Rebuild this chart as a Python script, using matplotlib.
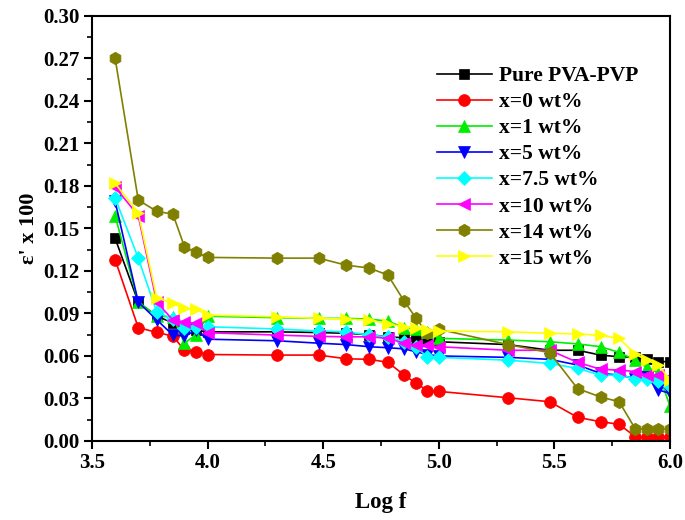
import matplotlib
matplotlib.use("Agg")
import matplotlib.pyplot as plt
from matplotlib.ticker import MultipleLocator, FormatStrFormatter

log_f = [3.60, 3.70, 3.78, 3.85, 3.90, 3.95, 4.00, 4.30, 4.48, 4.60, 4.70, 4.78, 4.85,
         4.90, 4.95, 5.00, 5.30, 5.48, 5.60, 5.70, 5.78, 5.85, 5.90, 5.95, 6.00]

pure = [0.143, 0.098, 0.088, 0.0834, 0.079, 0.078, 0.077, 0.077, 0.0765, 0.076, 0.075, 0.0735, 0.0728,
        0.0724, 0.0707, 0.070, 0.068, 0.064, 0.064, 0.0606, 0.0594, 0.059, 0.0576, 0.056, 0.056]
x0 = [0.128, 0.080, 0.0766, 0.074, 0.064, 0.063, 0.061, 0.0606, 0.0606, 0.058, 0.0576, 0.0555, 0.0465,
      0.041, 0.0355, 0.035, 0.0305, 0.0277, 0.0167, 0.0136, 0.0118, 0.003, 0.003, 0.003, 0.003]
x1 = [0.159, 0.098, 0.088, 0.0875, 0.069, 0.075, 0.088, 0.087, 0.0865, 0.0865, 0.086, 0.0845, 0.080,
      0.079, 0.077, 0.0724, 0.0712, 0.070, 0.0685, 0.0665, 0.0625, 0.057, 0.052, 0.048, 0.0245]
x5 = [0.169, 0.098, 0.0855, 0.0747, 0.074, 0.078, 0.0718, 0.0707, 0.069, 0.068, 0.0665, 0.0658, 0.065,
      0.063, 0.061, 0.060, 0.059, 0.0576, 0.0536, 0.0477, 0.0465, 0.044, 0.045, 0.036, 0.0336]
x7_5 = [0.1715, 0.129, 0.091, 0.086, 0.0795, 0.0806, 0.0806, 0.079, 0.0776, 0.077, 0.0747, 0.0735, 0.070,
        0.0665, 0.0594, 0.059, 0.057, 0.0547, 0.0512, 0.0465, 0.0465, 0.044, 0.044, 0.042, 0.039]
x10 = [0.179, 0.159, 0.098, 0.0853, 0.084, 0.083, 0.0764, 0.0747, 0.0738, 0.0735, 0.0735, 0.0724, 0.069,
       0.0677, 0.0677, 0.0665, 0.064, 0.064, 0.0555, 0.0506, 0.050, 0.049, 0.0465, 0.0465, 0.045]
x14 = [0.270, 0.170, 0.162, 0.160, 0.137, 0.133, 0.1295, 0.129, 0.129, 0.124, 0.122, 0.117, 0.0987,
       0.087, 0.076, 0.0788, 0.068, 0.0623, 0.037, 0.031, 0.0277, 0.0085, 0.0085, 0.0085, 0.0085]
x15 = [0.1817, 0.161, 0.101, 0.097, 0.0935, 0.093, 0.0888, 0.0876, 0.0865, 0.086, 0.0853, 0.0825, 0.0806,
       0.080, 0.078, 0.0776, 0.077, 0.076, 0.0755, 0.0745, 0.0724, 0.0613, 0.057, 0.0536, 0.043]

labels = ["Pure PVA-PVP", "x=0 wt%", "x=1 wt%", "x=5 wt%", "x=7.5 wt%", "x=10 wt%", "x=14 wt%", "x=15 wt%"]
series = [pure, x0, x1, x5, x7_5, x10, x14, x15]
colors = ["#000000", "#ff0000", "#00ee00", "#0000ff", "#00ffff", "#ff00ff", "#808000", "#ffff00"]
markers = ["s", "o", "^", "v", "D", "<", "h", ">"]
msizes = [7, 8.5, 9, 9, 7.5, 9, 9, 9]

plt.rcParams['font.family'] = ['Liberation Serif', 'DejaVu Serif']
plt.rcParams['font.weight'] = 'bold'

fig = plt.figure(figsize=(6.85, 5.2), dpi=100)
ax = fig.add_axes([92/685, 1 - 441/520, (670-92)/685, (441-15.7)/520])

for y, lab, c, m, ms in zip(series, labels, colors, markers, msizes):
    ax.plot(log_f, y, color=c, marker=m, markersize=ms, markeredgecolor=c,
            markeredgewidth=0.5, linewidth=1.2, label=lab)

ax.set_xlim(3.5, 6.0)
ax.set_ylim(0.0, 0.30)
ax.xaxis.set_major_locator(MultipleLocator(0.5))
ax.xaxis.set_minor_locator(MultipleLocator(0.25))
ax.yaxis.set_major_locator(MultipleLocator(0.03))
ax.yaxis.set_minor_locator(MultipleLocator(0.015))
ax.xaxis.set_major_formatter(FormatStrFormatter('%.1f'))
ax.yaxis.set_major_formatter(FormatStrFormatter('%.2f'))
ax.tick_params(which='major', direction='out', length=6, width=1.5, labelsize=15, pad=3)
ax.tick_params(which='minor', direction='out', length=3.5, width=1.2)
for lbl in ax.get_xticklabels() + ax.get_yticklabels():
    lbl.set_fontweight('bold')
for s in ax.spines.values():
    s.set_linewidth(1.5)

ax.set_xlabel("Log f", fontsize=16.5, fontweight='bold', labelpad=13)
ax.set_ylabel("\u03b5' x 100", fontsize=16, fontweight='bold', labelpad=3)

leg = ax.legend(loc='upper left', bbox_to_anchor=(437/685, 1 - 66/520),
                bbox_transform=fig.transFigure, frameon=False, borderpad=0,
                borderaxespad=0, handlelength=2.55, handletextpad=0.35,
                labelspacing=0.28, prop={'family': 'Liberation Serif', 'weight': 'bold', 'size': 15.5})

fig.savefig("out.png", dpi=100)
